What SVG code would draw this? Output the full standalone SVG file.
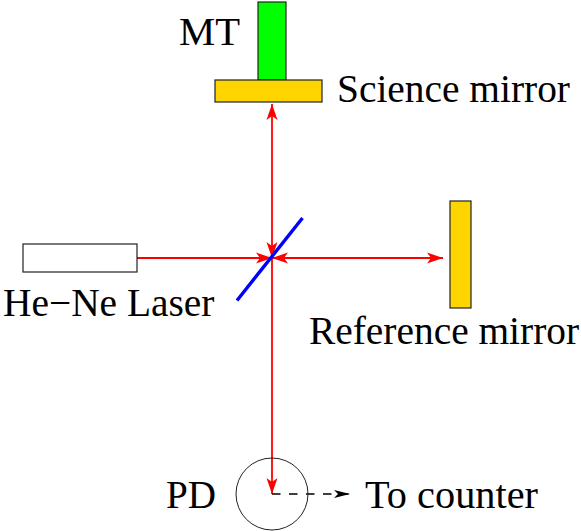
<svg xmlns="http://www.w3.org/2000/svg" width="581" height="531" viewBox="0 0 581 531">
<defs>
<marker id="r" markerUnits="userSpaceOnUse" markerWidth="18" markerHeight="12" refX="16" refY="6" orient="auto-start-reverse"><path d="M0,0.5 L16,6 L0,11.5 L4,6 Z" fill="#f00"/></marker>
<marker id="k" markerUnits="userSpaceOnUse" markerWidth="18" markerHeight="10" refX="16" refY="5" orient="auto"><path d="M0,1 L16,5 L0,9 L4,5 Z" fill="#000"/></marker>
</defs>
<style>
text{font-family:"Liberation Serif","Times New Roman",serif;font-size:39.4px;fill:#000}
.o{stroke:#222;stroke-width:1.2}
.y{fill:#ffd500}
.l{fill:none;stroke:#f00;stroke-width:1.8}
</style>
<rect width="581" height="531" fill="#fff"/>
<g id="connectors">
<line class="l" x1="272" y1="104" x2="272" y2="258" marker-start="url(#r)" marker-end="url(#r)"/>
<line class="l" x1="137" y1="258" x2="272" y2="258" marker-end="url(#r)"/>
<line class="l" x1="272" y1="258" x2="443" y2="258" marker-start="url(#r)" marker-end="url(#r)"/>
<line class="l" x1="272" y1="258" x2="272" y2="494" marker-end="url(#r)"/>
<line x1="272" y1="494" x2="350" y2="494" fill="none" stroke="#000" stroke-width="1.6" stroke-dasharray="8.5 8.5" marker-end="url(#k)"/>
</g>
<g id="mt"><rect class="o" x="258" y="2" width="28" height="78" fill="#0f0"/><text x="179" y="45" textLength="61" lengthAdjust="spacingAndGlyphs">MT</text></g>
<g id="science-mirror"><rect class="o y" x="215" y="80" width="107" height="22"/><text x="337" y="102">Science mirror</text></g>
<g id="beam-splitter"><line x1="237" y1="300.5" x2="302.5" y2="218" stroke="#00f" stroke-width="3.4"/></g>
<g id="laser"><rect class="o" x="23" y="244" width="114" height="28" fill="#fff"/><text x="3" y="316">He−Ne Laser</text></g>
<g id="reference-mirror"><rect class="o y" x="450" y="201" width="21" height="107"/><text x="309" y="344">Reference mirror</text></g>
<g id="pd"><circle cx="272" cy="494" r="36" fill="none" stroke="#222" stroke-width="1"/><text x="166" y="508" textLength="50" lengthAdjust="spacingAndGlyphs">PD</text></g>
<g id="counter"><text x="365" y="508" textLength="173" lengthAdjust="spacingAndGlyphs">To counter</text></g>
</svg>
